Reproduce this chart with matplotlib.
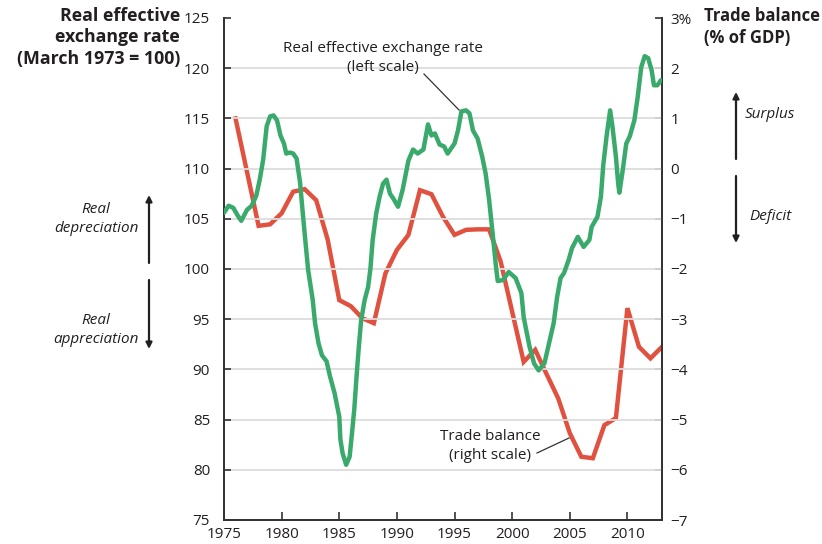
import matplotlib
matplotlib.use("Agg")
import matplotlib.pyplot as plt
from matplotlib.patches import FancyArrowPatch
from matplotlib.lines import Line2D

# ---- data ----
reer_years = [1975.0, 1975.4, 1975.8, 1976.2, 1976.5, 1977.0, 1977.4, 1977.8, 1978.1, 1978.4,
              1978.7, 1979.0, 1979.3, 1979.6, 1979.9, 1980.2, 1980.4, 1980.7, 1981.0, 1981.3,
              1981.6, 1981.8, 1982.0, 1982.3, 1982.7, 1982.9, 1983.2, 1983.5, 1983.9, 1984.2,
              1984.6, 1985.0, 1985.1, 1985.3, 1985.6, 1985.9, 1986.1, 1986.3, 1986.5, 1986.7,
              1986.9, 1987.2, 1987.5, 1987.7, 1987.9, 1988.2, 1988.5, 1988.8, 1989.1, 1989.4,
              1989.7, 1990.1, 1990.5, 1991.0, 1991.4, 1991.8, 1992.3, 1992.7, 1993.0, 1993.3,
              1993.7, 1994.1, 1994.4, 1995.0, 1995.3, 1995.6, 1996.0, 1996.3, 1996.6, 1997.0,
              1997.4, 1997.7, 1998.0, 1998.3, 1998.6, 1998.75, 1999.2, 1999.7, 2000.3, 2000.8,
              2001.0, 2001.5, 2001.9, 2002.3, 2002.8, 2003.2, 2003.6, 2003.9, 2004.2, 2004.5,
              2004.9, 2005.2, 2005.7, 2006.2, 2006.7, 2006.9, 2007.4, 2007.7, 2007.9, 2008.2,
              2008.5, 2008.7, 2009.0, 2009.2, 2009.3, 2009.6, 2009.9, 2010.2, 2010.6, 2010.9,
              2011.2, 2011.5, 2011.8, 2012.1, 2012.3, 2012.6, 2012.9]
reer_values = [105.6, 106.3, 106.1, 105.3, 104.8, 105.9, 106.3, 107.3, 108.9, 110.9,
               114.2, 115.2, 115.3, 114.8, 113.3, 112.5, 111.5, 111.6, 111.5, 111.0,
               108.6, 106.0, 103.5, 99.9, 96.9, 94.6, 92.6, 91.4, 90.8, 89.3,
               87.6, 85.3, 83.0, 81.6, 80.5, 81.3, 83.6, 86.0, 89.3, 92.3,
               94.9, 96.9, 98.2, 100.0, 102.9, 105.5, 107.2, 108.5, 108.9, 107.5,
               107.0, 106.2, 107.9, 110.8, 111.9, 111.5, 111.9, 114.4, 113.3, 113.5,
               112.4, 112.2, 111.5, 112.5, 113.8, 115.7, 115.8, 115.5, 113.8, 113.0,
               111.2, 109.5, 106.9, 103.6, 100.2, 98.8, 98.9, 99.7, 99.1, 97.6,
               95.2, 92.3, 90.6, 89.9, 90.6, 92.6, 94.6, 97.2, 99.1, 99.6,
               100.9, 102.1, 103.2, 102.2, 102.9, 104.2, 105.2, 107.2, 110.3, 113.3,
               115.8, 114.2, 111.2, 108.5, 107.6, 109.9, 112.5, 113.2, 114.8, 117.2,
               120.1, 121.2, 121.0, 119.8, 118.3, 118.3, 118.8]

tb_years = [1976, 1978, 1979, 1980, 1981, 1982, 1983, 1984, 1985, 1986, 1987, 1988, 1989,
            1990, 1991, 1992, 1993, 1994, 1995, 1996, 1997, 1998, 1999, 2000, 2001, 2002,
            2003, 2004, 2005, 2006, 2007, 2008, 2009, 2010, 2011, 2012, 2013]
tb_values = [1.0, -1.14, -1.11, -0.89, -0.46, -0.41, -0.63, -1.42, -2.62, -2.74, -2.98, -3.08,
             -2.09, -1.62, -1.32, -0.43, -0.51, -0.96, -1.32, -1.22, -1.21, -1.21, -1.85,
             -2.85, -3.85, -3.61, -4.1, -4.58, -5.27, -5.74, -5.77, -5.11, -4.97, -2.78,
             -3.55, -3.78, -3.55]

left_ticks = [75, 80, 85, 90, 95, 100, 105, 110, 115, 120, 125]
right_ticks = [-7, -6, -5, -4, -3, -2, -1, 0, 1, 2, 3]
right_labels = ["\u22127", "\u22126", "\u22125", "\u22124", "\u22123", "\u22122", "\u22121",
                "0", "1", "2", "3%"]
x_ticks = [1975, 1980, 1985, 1990, 1995, 2000, 2005, 2010]

GREEN = "#3AAA6C"
RED = "#E0523F"
TXT = "#231F20"
FONT = "Open Sans"

W, H = 822, 544
fig = plt.figure(figsize=(W / 100, H / 100), dpi=100)
plt.rcParams["font.family"] = [FONT, "DejaVu Sans"]

def fx(x):
    return x / W

def fy(y):
    return 1 - y / H

ax = fig.add_axes([fx(224), fy(520), (662 - 224) / W, (520 - 18) / H])
ax2 = ax.twinx()

ax.set_xlim(1975, 2013)
ax.set_ylim(75, 125)
ax2.set_ylim(-7, 3)

for g in left_ticks[1:-1]:
    ax.axhline(g, color="#DCDCDC", lw=1.3, zorder=0)

ax.plot(reer_years, reer_values, color=GREEN, lw=3.2, solid_joinstyle="round",
        solid_capstyle="round", zorder=3)
ax2.plot(tb_years, tb_values, color=RED, lw=3.2, solid_joinstyle="miter", zorder=2)
ax.set_zorder(ax2.get_zorder() + 1)
ax.patch.set_visible(False)

ax.set_xticks(x_ticks)
ax.set_xticklabels([str(t) for t in x_ticks])
ax.set_yticks(left_ticks)
ax.set_yticklabels([str(t) for t in left_ticks])
ax2.set_yticks(right_ticks)
ax2.set_yticklabels(right_labels)

ax.tick_params(axis="x", direction="in", length=6, width=1.2, color="#333333",
               labelsize=11, labelcolor=TXT, pad=5)
ax.tick_params(axis="y", direction="in", length=5, width=1.2, color="#333333",
               labelsize=11, labelcolor=TXT, pad=10)
ax2.tick_params(axis="y", direction="in", length=5, width=1.2, color="#333333",
                labelsize=11, labelcolor=TXT, pad=6)

for a in (ax, ax2):
    a.spines["top"].set_visible(False)
    for s in ("left", "right", "bottom"):
        a.spines[s].set_color("#333333")
        a.spines[s].set_linewidth(1.3)

# axis titles
fig.text(fx(180), fy(7), "Real effective\nexchange rate\n(March 1973 = 100)", ha="right",
         va="top", fontsize=12.8, fontweight="bold", color=TXT, linespacing=1.25)
fig.text(fx(704), fy(7), "Trade balance\n(% of GDP)", ha="left", va="top",
         fontsize=12, fontweight="bold", color=TXT, linespacing=1.3)

# series annotations
fig.text(fx(383), fy(58), "Real effective exchange rate\n(left scale)", ha="center",
         va="center", fontsize=11, color=TXT, linespacing=1.3)
fig.add_artist(Line2D([fx(424), fx(459)], [fy(74), fy(110)], color="#333333", lw=0.9))
fig.text(fx(490), fy(446), "Trade balance\n(right scale)", ha="center", va="center",
         fontsize=11, color=TXT, linespacing=1.3)
fig.add_artist(Line2D([fx(537), fx(569)], [fy(453), fy(438)], color="#333333", lw=0.9))

# side labels
fig.text(fx(96), fy(219), "Real\ndepreciation", ha="center", va="center", fontsize=11,
         style="italic", color=TXT, linespacing=1.4)
fig.text(fx(96), fy(330), "Real\nappreciation", ha="center", va="center", fontsize=11,
         style="italic", color=TXT, linespacing=1.4)
fig.text(fx(770), fy(115), "Surplus", ha="center", va="center", fontsize=11,
         style="italic", color=TXT)
fig.text(fx(770), fy(217), "Deficit", ha="center", va="center", fontsize=11,
         style="italic", color=TXT)

def arrow(x, y0, y1):
    fig.add_artist(FancyArrowPatch((fx(x), fy(y0)), (fx(x), fy(y1)),
                                   transform=fig.transFigure, arrowstyle="-|>",
                                   mutation_scale=9, lw=1.6, color=TXT,
                                   shrinkA=0, shrinkB=0))

arrow(149, 263, 195)
arrow(149, 280, 349)
arrow(736, 159, 92)
arrow(736, 176, 243)

fig.savefig("out.png", dpi=100)
